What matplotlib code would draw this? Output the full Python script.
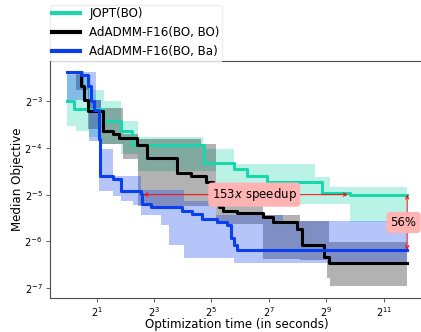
import numpy as np
import matplotlib
matplotlib.use('Agg')
import matplotlib.pyplot as plt
from matplotlib.ticker import NullLocator


# median objective vs optimization time (seconds), step curves
jopt_t = [0.97, 1.17, 2.31, 3.59, 4.76, 26.5, 54.5, 76.3, 123.5, 464, 910, 3600]
jopt_y = [0.1265, 0.1118, 0.0928, 0.0804, 0.0651, 0.0500, 0.0458, 0.0413, 0.0378, 0.0321, 0.0313, 0.0313]
jopt_hi_t = [0.97, 1.74, 2.38, 3.59, 5.40, 25.8, 54.5, 392, 562, 3600]
jopt_hi_y = [0.185, 0.1484, 0.125, 0.094, 0.0733, 0.0615, 0.0493, 0.0407, 0.0351, 0.0351]
jopt_lo_t = [0.97, 1.22, 1.66, 2.22, 3.59, 5.40, 35.3, 181, 910, 3600]
jopt_lo_y = [0.0862, 0.0800, 0.0733, 0.0661, 0.0570, 0.0444, 0.0317, 0.0273, 0.0210, 0.0210]

bo_t = [1.22, 1.37, 1.47, 1.61, 2.31, 2.94, 3.42, 5.37, 6.82, 14.05, 19.35, 27.8,
        32.9, 35.3, 38.0, 42.8, 59.5, 110.5, 140.5, 252, 285, 479, 540, 3600]
bo_y = [0.194, 0.156, 0.1284, 0.108, 0.0804, 0.0766, 0.0730, 0.0651, 0.0543, 0.0431, 0.0415, 0.0378,
        0.0317, 0.0273, 0.0260, 0.0247, 0.0239, 0.0225, 0.0210, 0.0187, 0.0148, 0.0125, 0.0113, 0.0113]
bo_hi_t = [1.22, 1.47, 1.66, 2.22, 3.77, 5.40, 24.6, 35.3, 112, 273, 540, 3600]
bo_hi_y = [0.1965, 0.155, 0.1284, 0.114, 0.0766, 0.0711, 0.0661, 0.0317, 0.0231, 0.0213, 0.0156, 0.0156]
bo_lo_t = [1.22, 1.61, 2.22, 3.77, 5.40, 35.3, 112, 273, 523, 562, 3600]
bo_lo_y = [0.1484, 0.0825, 0.0661, 0.0530, 0.0265, 0.0204, 0.0121, 0.0118, 0.0091, 0.0081, 0.0081]

ba_t = [0.97, 1.37, 1.61, 1.74, 1.89, 2.13, 2.17, 2.94, 3.59, 5.81, 6.05, 7.39,
        15.85, 20.16, 25.6, 36.8, 46.8, 50.7, 54.5, 59.5, 3600]
ba_y = [0.194, 0.185, 0.156, 0.125, 0.1106, 0.0711, 0.0415, 0.0395, 0.0332, 0.0317, 0.0273, 0.0260,
        0.0247, 0.0236, 0.0219, 0.0209, 0.0199, 0.0164, 0.0148, 0.0138, 0.0138]
ba_hi_t = [0.97, 1.97, 2.22, 2.94, 5.81, 16.35, 35.3, 181, 3600]
ba_hi_y = [0.194, 0.1284, 0.0615, 0.0415, 0.0336, 0.0283, 0.0230, 0.0213, 0.0213]
ba_lo_t = [0.97, 1.66, 2.13, 2.96, 3.59, 4.79, 5.81, 9.40, 11.4, 16.35, 54.5, 3600]
ba_lo_y = [0.1284, 0.069, 0.0331, 0.0309, 0.0287, 0.0267, 0.0230, 0.0199, 0.0148, 0.0123, 0.0113, 0.0113]

labels = ['JOPT(BO)', 'AdADMM-F16(BO, BO)', 'AdADMM-F16(BO, Ba)']
colors = ['#1bd6ad', 'black', '#0a3ff0']

# annotations
speedup_t = [6.2, 860]
speedup_y = 0.0313
gap_t = 3600
gap_y = [0.0313, 0.0138]


def step_at(t, y, grid):
    t = np.asarray(t)
    y = np.asarray(y)
    idx = np.searchsorted(t, grid, side='right') - 1
    return y[np.clip(idx, 0, None)]


def band(ax, hi_t, hi_y, lo_t, lo_y, color):
    grid = np.union1d(hi_t, lo_t)
    grid = grid[grid >= max(hi_t[0], lo_t[0])]
    hi = step_at(hi_t, hi_y, grid)
    lo = step_at(lo_t, lo_y, grid)
    ax.fill_between(grid, lo, hi, step='post', color=color, alpha=0.3, lw=0)


def main():
    plt.rcParams['font.size'] = 8.6
    fig = plt.figure(figsize=(4.21, 3.32), dpi=100)
    ax = fig.add_axes([50 / 421, 34 / 332, 374 / 421, 237.3 / 332])

    band(ax, jopt_hi_t, jopt_hi_y, jopt_lo_t, jopt_lo_y, colors[0])
    band(ax, bo_hi_t, bo_hi_y, bo_lo_t, bo_lo_y, colors[1])
    band(ax, ba_hi_t, ba_hi_y, ba_lo_t, ba_lo_y, colors[2])

    lines = []
    for t, y, c, lab in [(jopt_t, jopt_y, colors[0], labels[0]),
                         (bo_t, bo_y, colors[1], labels[1]),
                         (ba_t, ba_y, colors[2], labels[2])]:
        l, = ax.step(t, y, where='post', color=c, lw=2.2, label=lab, zorder=3)
        lines.append(l)

    ax.set_xscale('log', base=2)
    ax.set_yscale('log', base=2)
    ax.set_xlim(2 ** -0.62, 2 ** 12.4)
    ax.set_ylim(2 ** -7.21, 2 ** -2.13)
    ax.set_xticks([2, 8, 32, 128, 512, 2048])
    ax.set_yticks([2 ** -3, 2 ** -4, 2 ** -5, 2 ** -6, 2 ** -7])
    ax.xaxis.set_minor_locator(NullLocator())
    ax.yaxis.set_minor_locator(NullLocator())
    ax.tick_params(labelsize=7, length=3, width=0.6, pad=2.5, colors='0.25', labelcolor='black')
    ax.tick_params(axis='x', pad=2)
    for s in ax.spines.values():
        s.set_color('0.3')
        s.set_linewidth(0.8)

    ax.set_xlabel('Optimization time (in seconds)', labelpad=-0.5)
    ax.set_ylabel('Median Objective', labelpad=0)

    ax.annotate('', xy=(speedup_t[0], speedup_y), xytext=(speedup_t[1], speedup_y),
                arrowprops=dict(arrowstyle='<->', color='red', lw=0.7,
                                shrinkA=0, shrinkB=0, mutation_scale=6), zorder=4)
    ax.text(90, speedup_y, '153$x$ speedup', ha='center', va='center', fontsize=8.5, zorder=5,
            bbox=dict(boxstyle='round,pad=0.3', fc='#ffb3b3', ec='none'))

    ax.annotate('', xy=(gap_t, gap_y[0]), xytext=(gap_t, gap_y[1]),
                arrowprops=dict(arrowstyle='<->', color='red', lw=0.7,
                                shrinkA=0, shrinkB=0, mutation_scale=6), zorder=4)
    ax.text(3300, 0.0207, '56%', ha='center', va='center', fontsize=8.5, zorder=5,
            bbox=dict(boxstyle='round,pad=0.35', fc='#ffb3b3', ec='none'))

    leg = ax.legend(handles=lines, loc='lower left', bbox_to_anchor=(0, 1.0),
                    borderaxespad=0, borderpad=0.2, handlelength=2.3, fontsize=8.6, frameon=True)
    leg.get_frame().set_edgecolor('0.92')
    for h in leg.get_lines():
        h.set_linewidth(3)

    fig.savefig('out.png', dpi=100)


if __name__ == '__main__':
    main()
